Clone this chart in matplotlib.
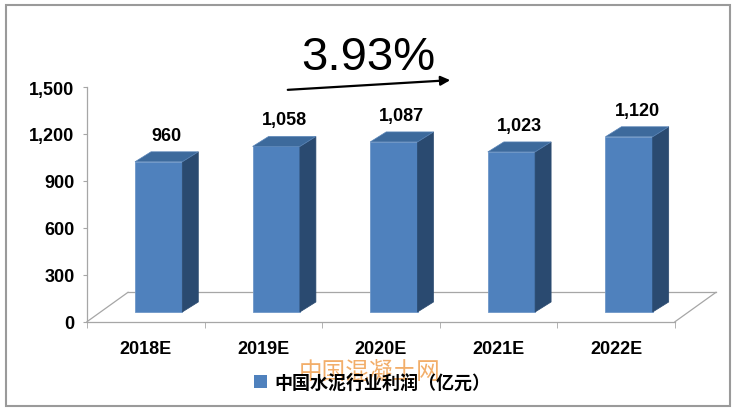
"""中国水泥行业利润 2018E-2022E — 仿 Excel 3D 柱状图。"""
import matplotlib
matplotlib.use("Agg")
import matplotlib.pyplot as plt
from matplotlib.patches import Polygon, Rectangle, Patch

years = ["2018E", "2019E", "2020E", "2021E", "2022E"]
profit = [960, 1058, 1087, 1023, 1120]
yticks = [0, 300, 600, 900, 1200, 1500]
cagr_text = "3.93%"
legend_label = "中国水泥行业利润（亿元）"
watermark = "中国混凝土网"

W, H = 736, 414
FRONT, TOP, SIDE = "#4F81BD", "#3D6A9C", "#2A4A70"
GRID = "#A6A6A6"

# 前平面像素尺寸（用于把像素偏移换算到数据单位）
AX_L, AX_R, AX_B, AX_T = 87, 675, 322.7, 88
PX_CAT = (AX_R - AX_L) / len(years)
PX_VAL = (AX_B - AX_T) / yticks[-1]


def px(dx, dy):
    return dx / PX_CAT, dy / PX_VAL


plt.rcParams["font.family"] = ["Liberation Sans", "DejaVu Sans"]
fig = plt.figure(figsize=(W / 100, H / 100), dpi=100)
ax = fig.add_axes([AX_L / W, (H - AX_B) / H, (AX_R - AX_L) / W, (AX_B - AX_T) / H])
ax.set_xlim(-0.5, len(years) - 0.5)
ax.set_ylim(0, yticks[-1])
ax.patch.set_alpha(0)

# 地板
fdx, fdy = px(41, 29.4)
x0, x1 = -0.5, len(years) - 0.5
for xs, ys in [([x0, x0 + fdx], [0, fdy]), ([x0 + fdx, x1 + fdx], [fdy, fdy]),
               ([x1, x1 + fdx], [0, fdy])]:
    ax.plot(xs, ys, color=GRID, lw=0.9, clip_on=False, zorder=1)

# 柱子
ox, oy = px(-10.8, 9.7)      # 柱前面相对类目中心的偏移
bw, _ = px(47.3, 0)
ddx, ddy = px(16, 10)        # 柱深度
gx, gy = px(8, 8)
for i, v in enumerate(profit):
    l, r = i + ox, i + ox + bw
    b, t = oy, oy + v
    ax.add_patch(Polygon([(l, b), (r, b), (r, t), (l, t)], closed=True,
                         fc=FRONT, ec="#6E97C8", lw=0.6, zorder=3, clip_on=False))
    ax.add_patch(Polygon([(r, b), (r + ddx, b + ddy), (r + ddx, t + ddy), (r, t)],
                         closed=True, fc=SIDE, ec=SIDE, lw=0.5, zorder=3, clip_on=False))
    ax.add_patch(Polygon([(l, t), (r, t), (r + ddx, t + ddy), (l + ddx, t + ddy)],
                         closed=True, fc=TOP, ec="#5A85B8", lw=0.5, zorder=3, clip_on=False))
    ax.text((l + r + ddx) / 2, t + ddy + gy, f"{v:,}", ha="center", va="bottom",
            fontsize=13, fontweight="bold", zorder=4)

# 坐标轴
for s in ("top", "right"):
    ax.spines[s].set_visible(False)
ax.spines["left"].set_color(GRID)
ax.spines["bottom"].set_color(GRID)
ax.spines["left"].set_linewidth(0.9)
ax.spines["bottom"].set_linewidth(0.9)
ax.set_yticks(yticks)
ax.set_yticklabels([f"{t:,}" for t in yticks], fontsize=13, fontweight="bold")
ax.tick_params(axis="y", length=3, color=GRID, pad=6)
ax.set_xticks(range(len(years)))
ax.set_xticklabels(years, fontsize=13, fontweight="bold")
ax.set_xticks([k - 0.5 for k in range(len(years) + 1)], minor=True)
ax.tick_params(axis="x", which="major", length=0, pad=13)
ax.tick_params(axis="x", which="minor", length=4, color=GRID)

# 增速标注
fig.text(368 / W, 1 - 58 / H, cagr_text, ha="center", va="center", fontsize=34)
fig.add_artist(matplotlib.patches.FancyArrowPatch(
    (285 / W, 1 - 91 / H), (453 / W, 1 - 81 / H), transform=fig.transFigure,
    arrowstyle="-|>", mutation_scale=14, lw=1.6, color="black"))

# 图例 + 水印
cjk = ["Noto Sans CJK SC", "DejaVu Sans"]
fig.text(370 / W, 1 - 373 / H, watermark, ha="center", va="center", fontsize=17,
         color="#F0A050", alpha=0.85, family=cjk, zorder=5)
leg = fig.legend([Patch(fc=FRONT)], [legend_label], loc="center",
                 bbox_to_anchor=(372 / W, 1 - 383 / H), frameon=False,
                 handlelength=0.7, handleheight=0.7, handletextpad=0.4,
                 prop={"family": cjk, "size": 13, "weight": "bold"})

# 外框
fig.add_artist(Rectangle((6 / W, 1 - 407 / H), 724 / W, 401 / H, transform=fig.transFigure,
                         fill=False, ec="#9A9A9A", lw=1.5))

fig.savefig("out.png", dpi=100)
